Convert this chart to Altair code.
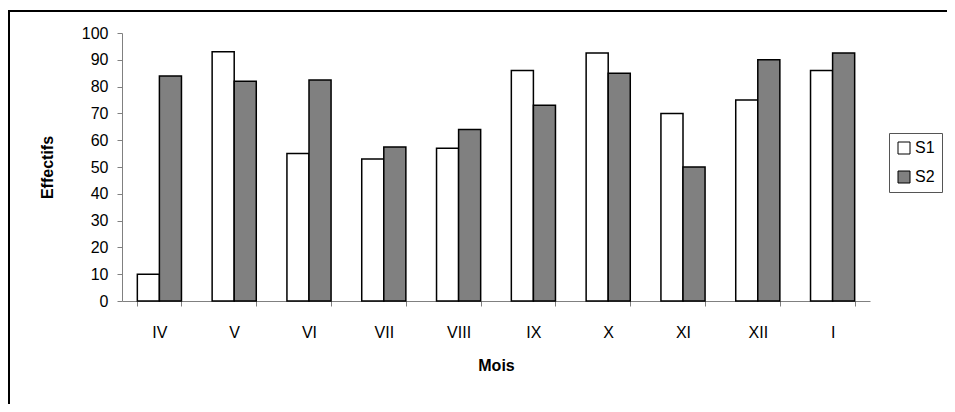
import altair as alt
import pandas as pd

months = ["IV", "V", "VI", "VII", "VIII", "IX", "X", "XI", "XII", "I"]
series = ["S1", "S2"]
s1 = [10, 93, 55, 53, 57, 86, 92.5, 70, 75, 86]
s2 = [84, 82, 82.5, 57.5, 64, 73, 85, 50, 90, 92.5]
y_ticks = list(range(0, 101, 10))

rows = []
for m, a, b in zip(months, s1, s2):
    rows.append({"Mois": m, "Serie": "S1", "Effectifs": a})
    rows.append({"Mois": m, "Serie": "S2", "Effectifs": b})
df = pd.DataFrame(rows)

FONT = "Liberation Sans"

bars = alt.Chart(df).mark_bar(stroke="black", strokeWidth=1.5).encode(
    x=alt.X(
        "Mois:N",
        sort=months,
        scale=alt.Scale(paddingInner=0.41, paddingOuter=0.205),
        axis=alt.Axis(
            title="Mois",
            labelAngle=0,
            tickBand="extent",
            tickSize=5,
            labelPadding=18,
            titlePadding=17,
            domainColor="#808080",
            tickColor="#808080",
        ),
    ),
    xOffset=alt.XOffset("Serie:N", sort=series),
    y=alt.Y(
        "Effectifs:Q",
        scale=alt.Scale(domain=[0, 100]),
        axis=alt.Axis(
            values=y_ticks,
            grid=False,
            title="Effectifs",
            tickSize=5,
            labelPadding=9,
            titlePadding=26,
            domainColor="#808080",
            tickColor="#808080",
        ),
    ),
    color=alt.Color(
        "Serie:N",
        scale=alt.Scale(domain=series, range=["white", "#808080"]),
        legend=alt.Legend(
            title=None,
            orient="none",
            legendX=767,
            legendY=100,
            symbolType="square",
            symbolSize=144,
            symbolStrokeColor="black",
            symbolStrokeWidth=1,
            labelFontSize=16,
            labelFont=FONT,
            labelColor="black",
            labelOffset=3,
            rowPadding=13,
            padding=7,
            strokeColor="#555555",
            fillColor="white",
        ),
    ),
)

frame_data = alt.Data(values=[{"k": 0}])
top_line = alt.Chart(frame_data).mark_rule(color="black", strokeWidth=2).encode(
    x=alt.value(-120), x2=alt.value(900), y=alt.value(-22)
)
left_line = alt.Chart(frame_data).mark_rule(color="black", strokeWidth=2).encode(
    x=alt.value(-113), y=alt.value(-23), y2=alt.value(400)
)

chart = (
    alt.layer(bars, top_line, left_line)
    .properties(
        width=748,
        height=268,
        autosize=alt.AutoSizeParams(type="none"),
        padding={"left": 114, "top": 25, "right": 77, "bottom": 103},
        background="white",
    )
    .configure_view(stroke=None)
    .configure_axis(
        labelFont=FONT,
        labelFontSize=16,
        labelColor="black",
        titleFont=FONT,
        titleFontSize=16,
        titleFontWeight="bold",
        titleColor="black",
    )
)

chart.save("out.html", embed_options={"renderer": "svg", "actions": False})
